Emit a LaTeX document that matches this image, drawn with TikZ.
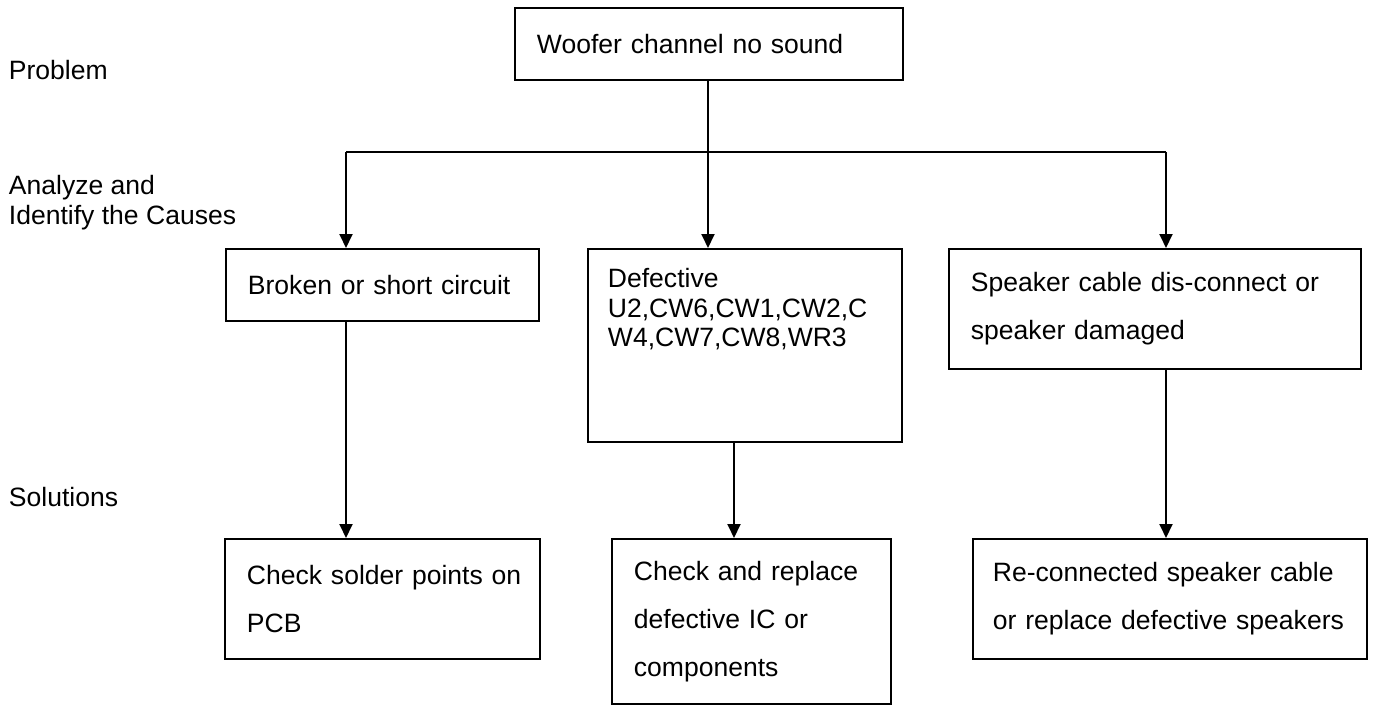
\documentclass[tikz,border=0pt]{standalone}
\usepackage{fontspec}
\setmainfont{Liberation Sans}
\usetikzlibrary{arrows.meta}
\begin{document}
\begin{tikzpicture}[x=0.02cm, y=-0.02cm, line width=1.1pt,
	box/.style={draw, rectangle, anchor=north west, align=left, inner xsep=0.44cm, inner ysep=0pt,
		font=\fontsize{15.1pt}{27.2pt}\selectfont},
	side/.style={anchor=west, align=left, inner sep=0pt, font=\fontsize{15.1pt}{17pt}\selectfont},
	arr/.style={-{Triangle[width=0.26cm,length=0.28cm]}}]
	\useasboundingbox (0,0) rectangle (1390,706);
	% stage labels
	\node[side] (lprob) at (8,70) {Problem};
	\node[side] (lcause) at (8,203) {Analyze and\\Identify the Causes};
	\node[side] (lsol) at (8,497) {Solutions};
	% problem
	\node[box, minimum width=7.76cm, minimum height=1.44cm, text width=6.88cm] (prob) at (514,7)
		{Woofer channel no sound};
	% causes
	\node[box, minimum width=6.26cm, minimum height=1.44cm, text width=5.38cm] (cause1) at (225,248)
		{\mbox{Broken or short circuit}};
	\node[box, inner xsep=0.4cm, inner ysep=0.38cm, font=\fontsize{15.1pt}{17pt}\selectfont] (cause2) at (587,248)
		{\parbox[c][3.1cm][t]{5.48cm}{\raggedright Defective\\U2,CW6,CW1,CW2,C\\W4,CW7,CW8,WR3}};
	\node[box, minimum width=8.24cm, minimum height=2.4cm, text width=7.36cm] (cause3) at (948,248)
		{\mbox{Speaker cable dis-connect or}\\speaker damaged};
	% solutions
	\node[box, minimum width=6.3cm, minimum height=2.4cm, text width=5.42cm] (sol1) at (224,538)
		{\mbox{Check solder points on}\\PCB};
	\node[box, minimum width=5.58cm, minimum height=3.3cm, text width=4.7cm] (sol2) at (611,538)
		{Check and replace\\defective IC or\\components};
	\node[box, inner xsep=0.4cm, minimum width=7.88cm, minimum height=2.4cm, text width=7.08cm] (sol3) at (972,538)
		{Re-connected speaker cable\\\mbox{or replace defective speakers}};
	% tree
	\coordinate (split) at (708,152);
	\coordinate (c1x) at (346,152);
	\coordinate (c2x) at (734,152);
	\coordinate (c3x) at (1166,152);
	\draw (prob.south -| split) -- (split);
	\draw (c1x) -- (c3x);
	\draw[arr] (c1x) -- (c1x |- cause1.north);
	\draw[arr] (split) -- (split |- cause2.north);
	\draw[arr] (c3x) -- (c3x |- cause3.north);
	\draw[arr] (c1x |- cause1.south) -- (c1x |- sol1.north);
	\draw[arr] (c2x |- cause2.south) -- (c2x |- sol2.north);
	\draw[arr] (c3x |- cause3.south) -- (c3x |- sol3.north);
\end{tikzpicture}
\end{document}
